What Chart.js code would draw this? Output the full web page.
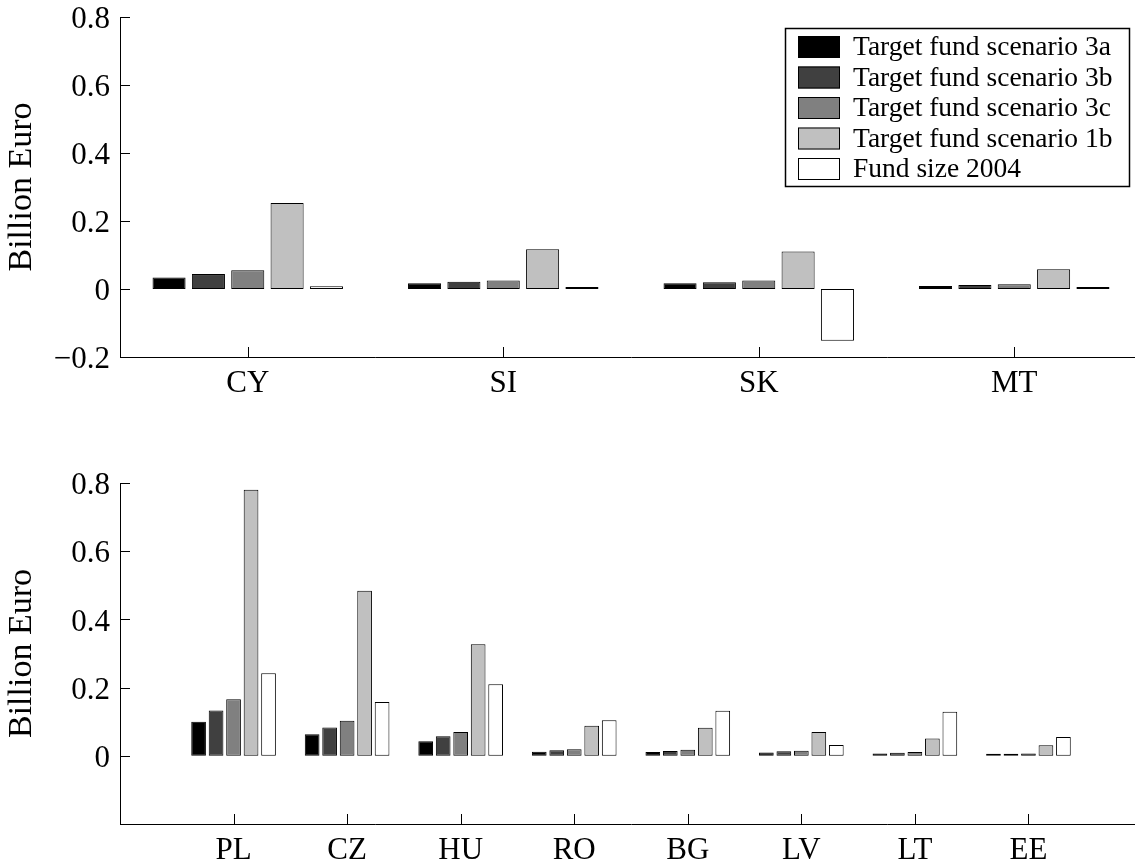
<!DOCTYPE html>
<html>
<head>
<meta charset="utf-8">
<script src="https://cdn.jsdelivr.net/npm/chart.js@4.4.1/dist/chart.umd.min.js"></script>
<style>
    html, body { margin: 0; padding: 0; background: #fff; overflow: hidden; }
    .wrap { position: absolute; left: 0; width: 1150px; }
    #topWrap { top: 0; height: 420px; }
    #bottomWrap { top: 430px; height: 437px; }
</style>
</head>
<body>
    <div class="wrap" id="topWrap"><canvas id="topCanvas" width="1150" height="420"></canvas></div>
    <div class="wrap" id="bottomWrap"><canvas id="bottomCanvas" width="1150" height="437"></canvas></div>
    <script>
        // Serie e colori (scala di grigi)
        const seriesNames = ['Target fund scenario 3a', 'Target fund scenario 3b', 'Target fund scenario 3c', 'Target fund scenario 1b', 'Fund size 2004'];
        const seriesColors = ['#000000', '#404040', '#808080', '#c0c0c0', '#ffffff'];

        // Pannello superiore
        const topCountries = ['CY', 'SI', 'SK', 'MT'];
        const top3a = [0.034, 0.017, 0.017, 0.009];
        const top3b = [0.044, 0.021, 0.020, 0.012];
        const top3c = [0.055, 0.025, 0.025, 0.014];
        const top1b = [0.253, 0.117, 0.110, 0.058];
        const topFund = [0.008, 0.002, -0.152, 0.003];

        // Pannello inferiore (etichette vuote ai bordi per lasciare spazio)
        const bottomCountries = ['', 'PL', 'CZ', 'HU', 'RO', 'BG', 'LV', 'LT', 'EE', ''];
        const bottom3a = [null, 0.100, 0.063, 0.043, 0.012, 0.011, 0.010, 0.007, 0.005, null];
        const bottom3b = [null, 0.133, 0.083, 0.057, 0.016, 0.014, 0.013, 0.009, 0.006, null];
        const bottom3c = [null, 0.166, 0.103, 0.070, 0.019, 0.018, 0.015, 0.011, 0.007, null];
        const bottom1b = [null, 0.780, 0.484, 0.327, 0.088, 0.082, 0.070, 0.051, 0.031, null];
        const bottomFund = [null, 0.242, 0.158, 0.210, 0.104, 0.132, 0.032, 0.129, 0.055, null];

        const yTicksTop = [-0.2, 0, 0.2, 0.4, 0.6, 0.8];
        const yTicksBottom = [0, 0.2, 0.4, 0.6, 0.8];

        const serif = 'Liberation Serif';

        function makeDatasets(series) {
            return series.map((values, i) => ({
                label: seriesNames[i],
                data: values,
                backgroundColor: seriesColors[i],
                borderColor: '#000',
                borderWidth: 1,
                borderSkipped: false,
                minBarLength: 2,
                categoryPercentage: 0.77,
                barPercentage: 0.84
            }));
        }

        function formatTick(v) {
            if (Math.abs(v) < 1e-9) return '0';
            return (v < 0 ? '\u2212' : '') + Math.abs(v).toFixed(1);
        }

        // Tacche rivolte verso l'interno, come nei grafici MATLAB
        const inwardTicks = {
            id: 'inwardTicks',
            afterDraw(chart) {
                const { ctx, chartArea, scales } = chart;
                ctx.save();
                ctx.strokeStyle = '#000';
                ctx.lineWidth = 1;
                ctx.beginPath();
                scales.x.ticks.forEach((t, i) => {
                    if (!t.label) return;
                    const px = Math.round(scales.x.getPixelForTick(i)) + 0.5;
                    ctx.moveTo(px, chartArea.bottom);
                    ctx.lineTo(px, chartArea.bottom - 10);
                });
                scales.y.ticks.forEach(t => {
                    const py = Math.round(scales.y.getPixelForValue(t.value)) + 0.5;
                    ctx.moveTo(chartArea.left, py);
                    ctx.lineTo(chartArea.left + 10, py);
                });
                ctx.stroke();
                ctx.restore();
            }
        };

        // Legenda con riquadro dentro l'area del grafico
        const boxLegend = {
            id: 'boxLegend',
            afterDraw(chart) {
                const ctx = chart.ctx;
                const x = 785, y = 28, w = 344, h = 158;
                const rowH = 30.5;
                ctx.save();
                ctx.fillStyle = '#fff';
                ctx.fillRect(x, y, w, h);
                ctx.strokeStyle = '#000';
                ctx.lineWidth = 1.5;
                ctx.strokeRect(x + 0.5, y + 0.5, w, h);
                ctx.font = '27.5px "' + serif + '"';
                ctx.textBaseline = 'middle';
                ctx.textAlign = 'left';
                chart.data.datasets.forEach((ds, i) => {
                    const cy = y + 19 + i * rowH;
                    ctx.fillStyle = ds.backgroundColor;
                    ctx.fillRect(x + 13, cy - 11, 42, 22);
                    ctx.lineWidth = 1;
                    ctx.strokeStyle = '#000';
                    ctx.strokeRect(x + 13.5, cy - 10.5, 41, 21);
                    ctx.fillStyle = '#000';
                    ctx.fillText(ds.label, x + 68, cy + 1);
                });
                ctx.restore();
            }
        };

        function makeChart(canvasId, labels, series, yTicks, padTop, xHeight, extraPlugins) {
            const ctx = document.getElementById(canvasId).getContext('2d');
            return new Chart(ctx, {
                type: 'bar',
                data: { labels: labels, datasets: makeDatasets(series) },
                options: {
                    responsive: false,
                    animation: false,
                    layout: { padding: { top: padTop, right: 8, left: 0, bottom: 0 } },
                    plugins: {
                        legend: { display: false },
                        tooltip: { enabled: false }
                    },
                    scales: {
                        x: {
                            type: 'category',
                            offset: labels[0] !== '',
                            grid: { display: false, drawTicks: false },
                            border: { display: true, color: '#000', width: 1 },
                            ticks: {
                                autoSkip: false,
                                maxRotation: 0,
                                padding: 8,
                                color: '#000',
                                font: { family: serif, size: 31 }
                            },
                            afterFit: function(scale) { scale.height = xHeight; }
                        },
                        y: {
                            min: -0.2,
                            max: 0.8,
                            grid: { display: false, drawTicks: false },
                            border: { display: true, color: '#000', width: 1 },
                            title: {
                                display: true,
                                text: 'Billion Euro',
                                color: '#000',
                                font: { family: serif, size: 34 },
                                padding: { top: 2, bottom: 0 }
                            },
                            ticks: {
                                padding: 10,
                                labelOffset: 3,
                                color: '#000',
                                font: { family: serif, size: 31 },
                                callback: function(value) { return formatTick(value); }
                            },
                            afterBuildTicks: function(axis) {
                                axis.ticks = yTicks.map(v => ({ value: v }));
                            },
                            afterFit: function(scale) {
                                scale.width = 120;
                                scale.paddingTop = 0;
                                scale.paddingBottom = 0;
                            }
                        }
                    }
                },
                plugins: [inwardTicks].concat(extraPlugins)
            });
        }

        makeChart('topCanvas', topCountries, [top3a, top3b, top3c, top1b, topFund], yTicksTop, 17, 63, [boxLegend]);
        makeChart('bottomCanvas', bottomCountries, [bottom3a, bottom3b, bottom3c, bottom1b, bottomFund], yTicksBottom, 53, 43, []);
    </script>
</body>
</html>
